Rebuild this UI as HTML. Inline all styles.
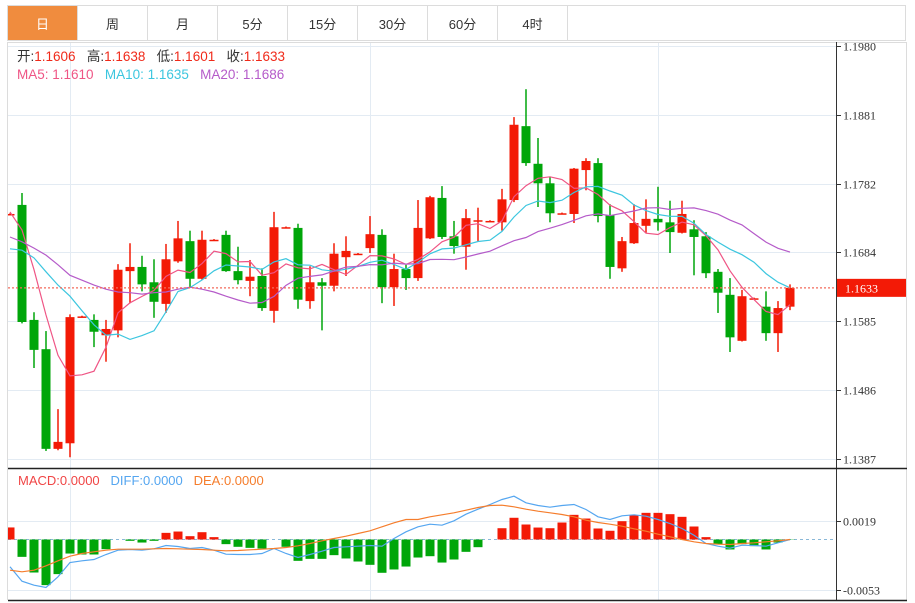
<!DOCTYPE html>
<html><head><meta charset="utf-8">
<style>
html,body{margin:0;padding:0;background:#fff;width:915px;height:603px;overflow:hidden;}
body{font-family:"Liberation Sans","Noto Sans CJK SC",sans-serif;position:relative;}
.tabs{position:absolute;left:7px;top:5px;height:36px;width:899px;border:1px solid #dcdcdc;box-sizing:border-box;display:flex;}
.tab{width:70px;height:100%;border-right:1px solid #dcdcdc;box-sizing:border-box;font-size:13px;color:#333;display:flex;align-items:center;justify-content:center;}
.tab.active{background:#f08c3e;color:#fff;}
.info{position:absolute;left:17px;font-size:13.5px;white-space:pre;line-height:16px;}
</style></head>
<body>
<div class="tabs">
  <div class="tab active">日</div>
  <div class="tab">周</div>
  <div class="tab">月</div>
  <div class="tab">5分</div>
  <div class="tab">15分</div>
  <div class="tab">30分</div>
  <div class="tab">60分</div>
  <div class="tab">4时</div>
</div>
<svg id="chart" width="915" height="603" style="position:absolute;left:0;top:0">
  <line x1="7.5" y1="42" x2="7.5" y2="600" stroke="#dcdcdc"/>
  <line x1="906.5" y1="42" x2="906.5" y2="600" stroke="#dcdcdc"/>
  <line x1="7" y1="42.5" x2="907" y2="42.5" stroke="#dcdcdc"/>
  <g id="grid"></g>
  <g id="candles" clip-path="url(#clipMain)"></g>
  <g id="macd" clip-path="url(#clipMain)"></g>
  <line x1="836.5" y1="42" x2="836.5" y2="600" stroke="#333"/>
  <line x1="8" y1="468.5" x2="907" y2="468.5" stroke="#222" stroke-width="1.5"/>
  <line x1="8" y1="600.5" x2="907" y2="600.5" stroke="#222" stroke-width="1.5"/>
  <g id="axis"></g>
  <defs><clipPath id="clipMain"><rect x="8" y="43" width="828" height="557"/></clipPath></defs>
</svg>
<div class="info" style="top:49px"><span style="color:#333">开:</span><span style="color:#f02a1a">1.1606</span>   <span style="color:#333">高:</span><span style="color:#f02a1a">1.1638</span>   <span style="color:#333">低:</span><span style="color:#f02a1a">1.1601</span>   <span style="color:#333">收:</span><span style="color:#f02a1a">1.1633</span></div>
<div class="info" style="top:67px"><span style="color:#ef5585">MA5: 1.1610</span>   <span style="color:#3cc6df">MA10: 1.1635</span>   <span style="color:#b55bc9">MA20: 1.1686</span></div>
<div class="info" style="top:473px;left:18px;font-size:13px"><span style="color:#f04545">MACD:0.0000</span>   <span style="color:#55a6f0">DIFF:0.0000</span>   <span style="color:#f57d2c">DEA:0.0000</span></div>
<script>
const openP = [1.1739,1.1752,1.1587,1.1545,1.1402,1.1410,1.1592,1.1587,1.1565,1.1572,1.1657,1.1663,1.1641,1.1610,1.1671,1.1700,1.1646,1.1702,1.1709,1.1657,1.1643,1.1650,1.1600,1.1720,1.1719,1.1614,1.1641,1.1636,1.1677,1.1682,1.1690,1.1709,1.1634,1.1660,1.1647,1.1704,1.1762,1.1707,1.1692,1.1730,1.1729,1.1727,1.1759,1.1865,1.1811,1.1783,1.1740,1.1739,1.1802,1.1812,1.1737,1.1661,1.1697,1.1722,1.1732,1.1727,1.1712,1.1717,1.1707,1.1656,1.1623,1.1557,1.1618,1.1606,1.1568,1.1606];
const closeP = [1.1739,1.1584,1.1544,1.1402,1.1412,1.1591,1.1592,1.1570,1.1574,1.1659,1.1663,1.1638,1.1613,1.1674,1.1704,1.1646,1.1702,1.1702,1.1657,1.1644,1.1649,1.1604,1.1720,1.1720,1.1616,1.1641,1.1636,1.1682,1.1686,1.1682,1.1710,1.1634,1.1660,1.1647,1.1719,1.1763,1.1706,1.1693,1.1733,1.1730,1.1729,1.1760,1.1867,1.1812,1.1783,1.1740,1.1740,1.1804,1.1815,1.1736,1.1663,1.1700,1.1726,1.1732,1.1727,1.1713,1.1739,1.1706,1.1654,1.1626,1.1562,1.1621,1.1618,1.1568,1.1604,1.1633];
const highP = [1.1740,1.1769,1.1598,1.1571,1.1459,1.1595,1.1593,1.1595,1.1587,1.1667,1.1697,1.1679,1.1674,1.1696,1.1729,1.1715,1.1715,1.1703,1.1715,1.1692,1.1673,1.1661,1.1742,1.1721,1.1725,1.1664,1.1647,1.1697,1.1707,1.1683,1.1736,1.1717,1.1682,1.1666,1.1759,1.1765,1.1779,1.1729,1.1746,1.1748,1.1730,1.1775,1.1878,1.1918,1.1848,1.1792,1.1741,1.1805,1.1819,1.1819,1.1753,1.1706,1.1753,1.1760,1.1778,1.1758,1.1758,1.1730,1.1713,1.1660,1.1647,1.1630,1.1619,1.1628,1.1614,1.1638];
const lowP = [1.1738,1.1582,1.1518,1.1399,1.1400,1.1390,1.1591,1.1548,1.1527,1.1562,1.1611,1.1628,1.1590,1.1597,1.1669,1.1633,1.1645,1.1701,1.1656,1.1638,1.1621,1.1600,1.1583,1.1719,1.1603,1.1603,1.1572,1.1628,1.1650,1.1681,1.1683,1.1611,1.1607,1.1630,1.1643,1.1703,1.1703,1.1682,1.1659,1.1700,1.1728,1.1715,1.1756,1.1808,1.1749,1.1727,1.1739,1.1726,1.1773,1.1727,1.1646,1.1656,1.1696,1.1712,1.1715,1.1683,1.1711,1.1651,1.1647,1.1597,1.1541,1.1556,1.1617,1.1557,1.1541,1.1601];
// moving-average values before a full window is available (from prior history)
const ma5Lead = [1.1742,1.1716,1.1659,1.1594];
const ma10Lead = [1.1689,1.1687,1.1676,1.1656,1.1637,1.1621,1.1600,1.1580,1.1565];
const ma20Lead = [1.1706,1.1699,1.1690,1.1680,1.1666,1.1651,1.1644,1.1637,1.1631,1.1627,1.1626,1.1624,1.1626,1.1627,1.1631,1.1634,1.1631,1.1627,1.1621];
// MACD values in units of 0.0001
const macdHist = [12.7,-18.3,-34.8,-48.1,-36.5,-14.8,-15.8,-15.8,-10.2,0,-1.4,-3.2,-1.4,7.0,8.4,3.5,7.7,2.5,-4.9,-7.7,-8.8,-9.5,0,-7.7,-22.5,-20.4,-20.4,-16.5,-20.0,-23.2,-26.7,-35.1,-31.6,-28.5,-19.0,-17.6,-24.3,-21.1,-13.0,-8.1,0,11.9,22.9,15.8,12.6,11.9,17.9,26.0,22.1,11.6,9.2,19.3,25.6,28.1,28.1,26.7,23.9,13.7,2.5,-4.9,-10.5,-4.9,-7.0,-10.5,-3.2,-0.3];
const diffLine = [-28.8,-44.0,-48.2,-50.6,-39.3,-24.2,-22.5,-21.1,-15.8,-11.3,-10.5,-11.3,-9.8,-6.3,-7.4,-9.5,-8.4,-11.3,-15.5,-15.8,-15.8,-14.8,-9.5,-14.8,-19.0,-15.8,-12.3,-8.4,-7.7,-7.1,-6.3,-7.1,1.1,8.1,13.4,16.1,15.1,19.7,26.7,31.9,36.9,42.2,45.6,38.7,35.8,34.0,35.8,36.9,31.6,23.9,21.1,25.0,26.0,24.6,21.1,16.9,11.6,4.5,-4.2,-7.1,-9.2,-6.0,-6.3,-7.1,-3.5,0];
const deaLine = [-32.4,-34.0,-32.4,-27.7,-22.5,-17.6,-14.8,-13.0,-11.3,-10.2,-10.2,-10.2,-9.8,-9.5,-9.8,-10.2,-10.5,-11.3,-11.9,-11.6,-10.9,-10.2,-9.5,-8.4,-6.6,-4.2,-1.4,1.1,3.5,6.3,9.2,13.4,17.6,21.1,21.1,23.9,26.0,28.1,30.9,33.7,35.8,36.2,34.5,31.9,29.8,28.1,26.4,23.9,20.3,17.9,16.1,14.0,11.3,8.7,5.6,2.8,0,-2.4,-4.2,-5.0,-5.3,-4.2,-3.5,-2.4,-1.4,0];
const priceTicks = ["1.1980","1.1881","1.1782","1.1684","1.1585","1.1486","1.1387"];
const macdTicks = ["0.0019","-0.0053"];
const lastPrice = 1.1633;

const NS="http://www.w3.org/2000/svg";
const RED="#f31a06", GREEN="#00a60a";
function mk(tag,attrs,parent){const e=document.createElementNS(NS,tag);for(const k in attrs)e.setAttribute(k,attrs[k]);parent.appendChild(e);return e;}
const xOf=i=>10+12*i;
const yP=p=>46+(1.1980-p)*(69/0.0099);
const yM=v=>539.5-v*(68.3/72);

const grid=document.getElementById('grid'), cg=document.getElementById('candles'), mg=document.getElementById('macd'), ax=document.getElementById('axis');
priceTicks.forEach(t=>{const y=Math.round(yP(parseFloat(t)))+0.5;
  const l=mk('line',{x1:8,y1:y,x2:836,y2:y,stroke:'#e3ebf3'},grid);
  
  
  mk('line',{x1:836,y1:y,x2:841,y2:y,stroke:'#333'},ax);
  const tx=mk('text',{x:843,y:y+4,'font-size':12,'font-family':'"Liberation Serif",serif',fill:'#333'},ax);
  tx.textContent=t;
  
  
});
macdTicks.forEach(t=>{const y=Math.round(yM(parseFloat(t)*10000))+0.5;
  const l=mk('line',{x1:8,y1:y,x2:836,y2:y,stroke:'#e3ebf3'},grid);
  
  
  mk('line',{x1:836,y1:y,x2:841,y2:y,stroke:'#333'},ax);
  const tx=mk('text',{x:843,y:y+4,'font-size':12,'font-family':'"Liberation Serif",serif',fill:'#333'},ax);
  tx.textContent=t;
  
  
});
[70.5,370.5,658.5].forEach(x=>{mk('line',{x1:x,y1:43,x2:x,y2:600,stroke:'#e3ebf3'},grid);});
for(let i=0;i<closeP.length;i++){
  const up=closeP[i]>=openP[i], c=up?RED:GREEN, x=xOf(i);
  const g=mk('g',{},cg);
  
  
  mk('line',{x1:x,y1:yP(highP[i]),x2:x,y2:yP(lowP[i]),stroke:c,'stroke-width':1.5},g);
  const top=yP(Math.max(openP[i],closeP[i])), bot=yP(Math.min(openP[i],closeP[i]));
  mk('rect',{x:x-4.5,y:top,width:9,height:Math.max(1.5,bot-top),fill:c},g);
}
function ma(n,lead){return closeP.map((_,i)=>{if(i<n-1)return lead[i];let s=0;for(let k=i-n+1;k<=i;k++)s+=closeP[k];return s/n;});}
[[ma(5,ma5Lead),'#ef5585','ma5-line'],[ma(10,ma10Lead),'#3cc6df','ma10-line'],[ma(20,ma20Lead),'#b55bc9','ma20-line']].forEach(([arr,col,name])=>{
  const p=mk('polyline',{points:arr.map((v,i)=>xOf(i)+','+yP(v).toFixed(1)).join(' '),fill:'none',stroke:col,'stroke-width':1.2},cg);
  
  
});
const ly=yP(lastPrice);
const lp=mk('line',{x1:8,y1:ly,x2:836,y2:ly,stroke:'#f36a5a','stroke-width':1.2,'stroke-dasharray':'2,2'},cg);


const lbl=mk('rect',{x:837,y:ly-9,width:69,height:18,fill:'#f31a06'},ax);


const lt=mk('text',{x:845,y:ly+4.5,'font-size':12,'font-family':'"Liberation Serif",serif',fill:'#fff'},ax);
lt.textContent=lastPrice.toFixed(4);
const zl=mk('line',{x1:8,y1:yM(0),x2:836,y2:yM(0),stroke:'#8ab8d8','stroke-dasharray':'3,3'},mg);


macdHist.forEach((v,i)=>{
  const y0=yM(0), y1=yM(v);
  const r=mk('rect',{x:xOf(i)-4.5,y:Math.min(y0,y1),width:9,height:Math.abs(y1-y0),fill:v>=0?RED:GREEN},mg);
  
  
});
[[diffLine,'#55a6f0','diff-line'],[deaLine,'#f57d2c','dea-line']].forEach(([arr,col,name])=>{
  const p=mk('polyline',{points:arr.map((v,i)=>xOf(i)+','+yM(v).toFixed(1)).join(' '),fill:'none',stroke:col,'stroke-width':1.2},mg);
  
  
});
</script>
</body></html>
